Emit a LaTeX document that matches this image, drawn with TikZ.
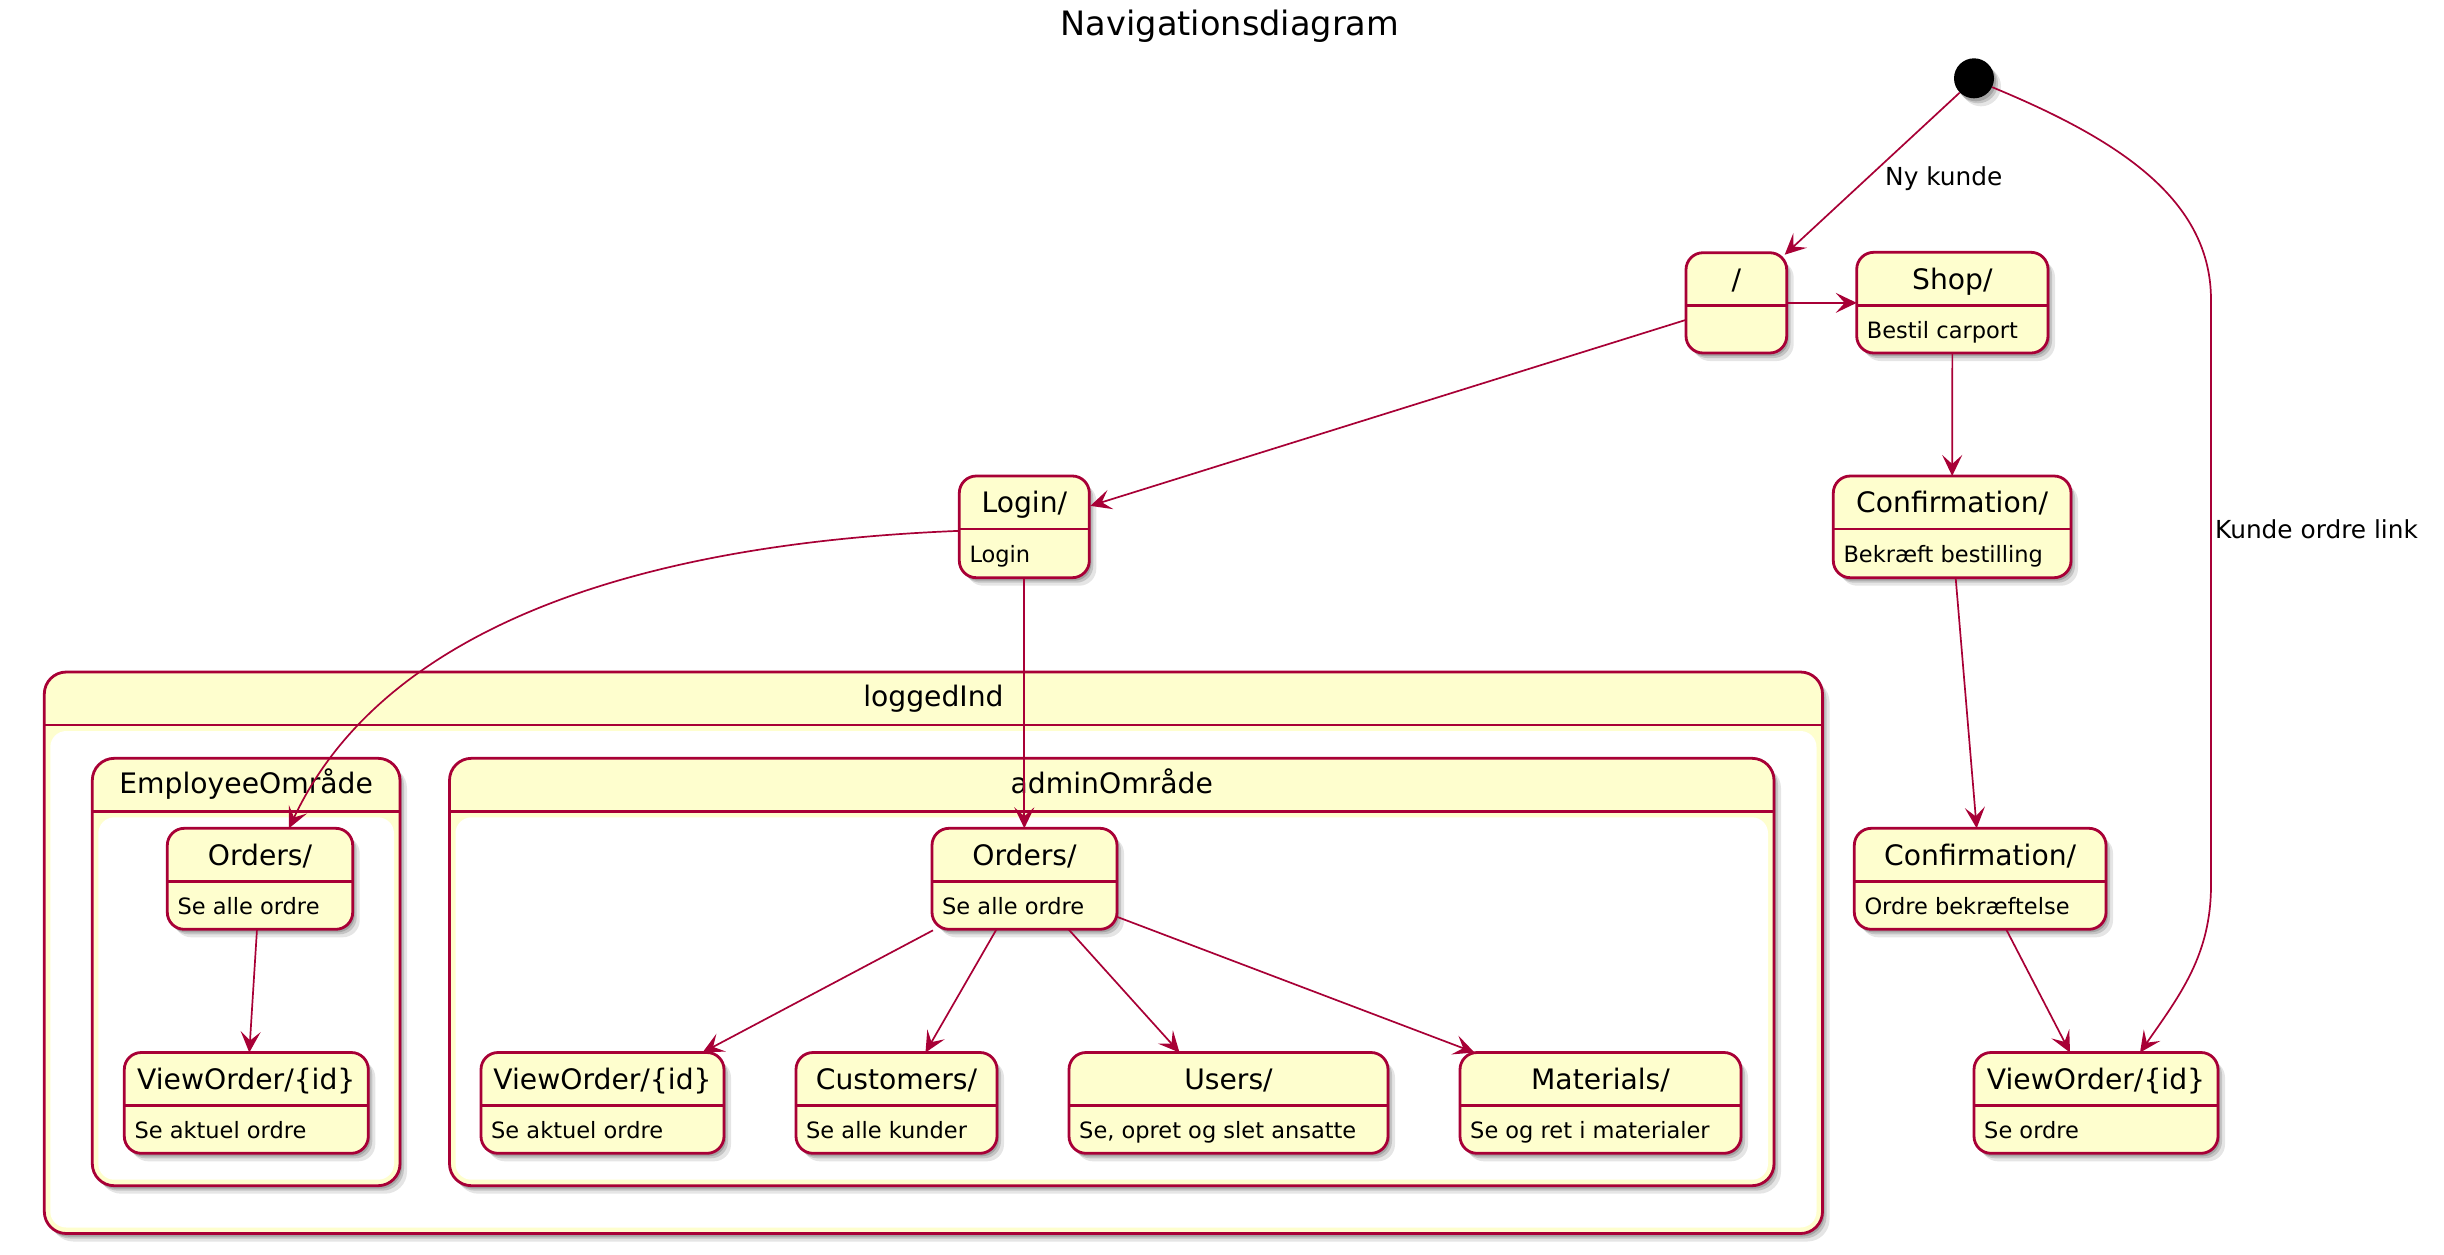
\documentclass[tikz,border=0pt]{standalone}
\usepackage{fontspec}
\setmainfont{DejaVu Sans}
\usetikzlibrary{arrows.meta,calc,fit,shadows}
\definecolor{stfill}{HTML}{FEFECE}
\definecolor{stline}{HTML}{A80036}
\tikzset{
 softshadow/.style={
   drop shadow={shadow xshift=2pt,shadow yshift=-3pt,opacity=.16,fill=black},
   drop shadow={shadow xshift=4pt,shadow yshift=-5pt,opacity=.14,fill=black},
   drop shadow={shadow xshift=7pt,shadow yshift=-8pt,opacity=.10,fill=black}},
 stbox/.style={draw=stline, fill=stfill, line width=2.8pt, rounded corners=17pt, inner sep=0pt, outer sep=0pt, softshadow},
 compbox/.style={draw=stline, fill=stfill, line width=2.8pt, rounded corners=22pt, inner sep=0pt, outer sep=0pt, softshadow},
 divline/.style={draw=stline, line width=2.8pt},
 nametext/.style={font=\fontsize{28.2}{34}\selectfont, inner sep=0pt},
 desctext/.style={font=\fontsize{22.5}{27}\selectfont, inner sep=0pt},
 lbl/.style={font=\fontsize{24.8}{30}\selectfont, inner sep=0pt},
 titletext/.style={font=\fontsize{33.6}{40}\selectfont, inner sep=0pt},
 conn/.style={draw=stline, line width=1.7pt, -{Stealth[length=21pt,width=20pt,inset=9pt]}},
}
\newcommand\stbox[7]{%
  \path (#2,#3) coordinate (#1-tl) (#4,#5) coordinate (#1-br);
  \node[stbox, fit=(#1-tl)(#1-br)] (#1) {};
  \draw[divline] ($(#1.north west)+(0,53)$) -- ($(#1.north east)+(0,53)$);
  \node[nametext, anchor=base] (#1-t) at ($(#1.north)+(0,36.7)$) {#6};
  \node[desctext, anchor=base west] (#1-d) at ($(#1.north west)+(10,86.3)$) {#7};
}
\newcommand\compbox[6]{%
  \path (#2,#3) coordinate (#1-tl) (#4,#5) coordinate (#1-br);
  \node[compbox, fit=(#1-tl)(#1-br)] (#1) {};
  \fill[white, rounded corners=16pt] ($(#1.north west)+(6,59)$) rectangle ($(#1.south east)+(-6,-6)$);
  \draw[divline] ($(#1.north west)+(0,53)$) -- ($(#1.north east)+(0,53)$);
  \node[nametext, anchor=base] (#1-t) at ($(#1.north)+(0,34.8)$) {#6};
}
\begin{document}
\begin{tikzpicture}[x=1pt,y=-1pt]
\useasboundingbox[fill=white] (0,0) rectangle (2444,1254);

\node[titletext, anchor=base] (title) at (1230,35) {Navigationsdiagram};

% composites
\compbox{logged}{44.3}{672}{1822.5}{1233.5}{loggedInd}
\compbox{emp}{92.3}{758.3}{400}{1185.7}{EmployeeOmråde}
\compbox{adm}{449.5}{758.3}{1774}{1185.7}{adminOmråde}

% initial state
\node[circle, fill=black, minimum size=40pt, inner sep=0pt, softshadow] (init) at (1974,78.3) {};

% states
\stbox{slash}{1686}{252.7}{1786.7}{353}{/}{}
\stbox{shop}{1856.7}{252.3}{2048}{353}{Shop/}{Bestil carport}
\stbox{login}{959.3}{476}{1089.3}{577.7}{Login/}{Login}
\stbox{conf1}{1833.3}{476}{2071}{577.7}{Confirmation/}{Bekræft bestilling}
\stbox{conf2}{1854.3}{828.3}{2106}{929.3}{Confirmation/}{Ordre bekræftelse}
\stbox{vo3}{1974}{1052.5}{2218}{1153.3}{ViewOrder/\{id\}}{Se ordre}

\stbox{ordE}{167.3}{828.3}{352.7}{929.3}{Orders/}{Se alle ordre}
\stbox{voE}{124.3}{1052.5}{368.3}{1153.3}{ViewOrder/\{id\}}{Se aktuel ordre}

\stbox{ordA}{932}{828.3}{1117}{929.3}{Orders/}{Se alle ordre}
\stbox{voA}{481}{1052.5}{724}{1153.3}{ViewOrder/\{id\}}{Se aktuel ordre}
\stbox{cust}{796}{1052.5}{997}{1153.3}{Customers/}{Se alle kunder}
\stbox{users}{1069}{1052.5}{1388}{1153.3}{Users/}{Se, opret og slet ansatte}
\stbox{mat}{1460}{1052.5}{1741}{1153.3}{Materials/}{Se og ret i materialer}

% connectors
\draw[conn] (init.south west) -- ($(slash.north east)+(-2,2)$);
\node[lbl, anchor=base west] (nyk) at (1885,185) {Ny kunde};

\draw[conn] (init.-26) .. controls (2120,140) and (2211,200) .. (2211,300)
   -- (2211,885) .. controls (2211,955) and (2180,995) .. ($(vo3.north)+(44,0)$);
\node[lbl, anchor=base west] (klink) at (2215,538) {Kunde ordre link};

\draw[conn] (slash.east) -- (slash.east -| shop.west);
\draw[conn] ($(slash.west)+(0,17)$) -- ($(login.east)+(1,-21)$);
\draw[conn] (shop.south) -- (conf1.north);
\draw[conn] ($(conf1.south)+(3.5,0)$) -- ($(conf2.north)+(-3.5,0)$);
\draw[conn] ($(conf2.south)+(26,0)$) -- ($(vo3.north)+(-26,0)$);

\draw[conn] ($(login.west)+(0,4)$) .. controls (600,545) and (375,645) .. ($(ordE.north)+(29,0)$);
\draw[conn] (login.south) -- (login.south |- ordA.north);

\draw[conn] ($(ordE.south)+(-3,0)$) -- ($(voE.north)+(3,0)$);

\draw[conn] ($(ordA.south west)+(1,1)$) -- ($(voA.north)+(100,0)$);
\draw[conn] ($(ordA.south)+(-28,0)$) -- ($(cust.north)+(29,0)$);
\draw[conn] ($(ordA.south)+(44,0)$) -- ($(users.north)+(-49,0)$);
\draw[conn] ($(ordA.east)+(0,38)$) -- ($(mat.north)+(-126,0)$);
\end{tikzpicture}
\end{document}
